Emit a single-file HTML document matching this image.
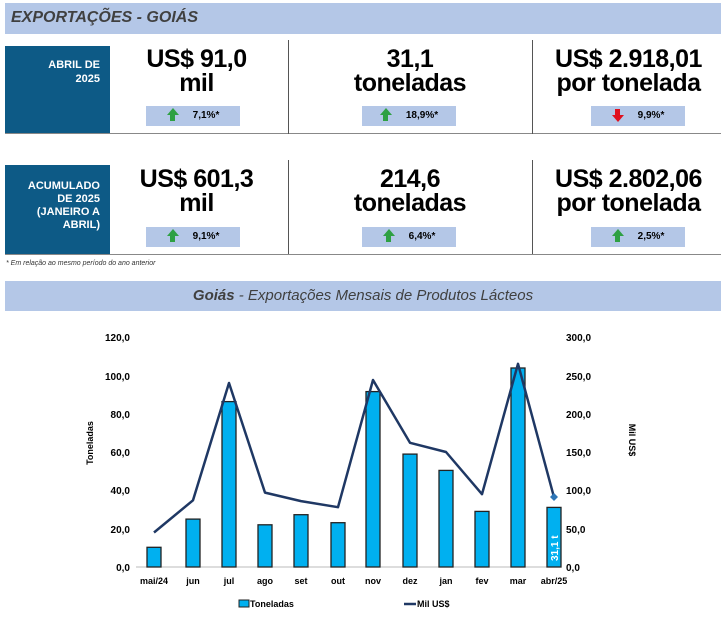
<!DOCTYPE html><html><head><meta charset="utf-8"><style>
body{margin:0;width:725px;height:628px;background:#fff;font-family:"Liberation Sans",sans-serif;position:relative;overflow:hidden}
.a{position:absolute}
.big{font-weight:bold;font-size:25px;line-height:24px;text-align:center;color:#000;letter-spacing:-0.5px}
.pill{position:absolute;background:#b4c7e7;height:20px;font-size:10px;font-weight:bold;line-height:20px;text-align:center}
.lab{background:#0d5a86;color:#fff;font-weight:bold;font-size:11px;text-align:right;padding-right:10px;box-sizing:border-box}
.sep{position:absolute;width:1px;background:#555}
.up{display:inline-block;width:0;height:0;border-left:6px solid transparent;border-right:6px solid transparent;border-bottom:7px solid #2ea043;vertical-align:middle;margin-right:14px;position:relative;top:-4px}
.up:after{content:"";position:absolute;left:-2.5px;top:7px;width:5px;height:6px;background:#2ea043}
.dn{display:inline-block;width:0;height:0;border-left:6px solid transparent;border-right:6px solid transparent;border-top:7px solid #e0101e;vertical-align:middle;margin-right:14px;position:relative;top:3px}
.dn:before{content:"";position:absolute;left:-2.5px;top:-13px;width:5px;height:6px;background:#e0101e}
</style></head><body>
<div class="a" style="left:5px;top:3px;width:716px;height:31px;background:#b4c7e7"></div>
<div class="a" style="left:11px;top:9px;font-size:16px;font-weight:bold;font-style:italic;color:#404040">EXPORTAÇÕES - GOIÁS</div>

<div class="a lab" style="left:5px;top:46px;width:105px;height:88px;padding-top:12px;line-height:14px">ABRIL DE<br>2025</div>
<div class="a" style="left:5px;top:133px;width:716px;height:1px;background:#888"></div>
<div class="sep" style="left:288px;top:40px;height:94px"></div>
<div class="sep" style="left:532px;top:40px;height:94px"></div>
<div class="a big" style="left:105px;top:47px;width:183px">US$ 91,0<br>mil</div>
<div class="a big" style="left:288px;top:47px;width:244px">31,1<br>toneladas</div>
<div class="a big" style="left:532px;top:47px;width:193px">US$ 2.918,01<br>por tonelada</div>
<div class="pill" style="left:146px;top:106px;width:94px"><span class="up"></span>7,1%*</div>
<div class="pill" style="left:362px;top:106px;width:94px"><span class="up"></span>18,9%*</div>
<div class="pill" style="left:591px;top:106px;width:94px"><span class="dn"></span>9,9%*</div>

<div class="a lab" style="left:5px;top:165px;width:105px;height:90px;padding-top:15px;line-height:13px">ACUMULADO<br>DE 2025<br>(JANEIRO A<br>ABRIL)</div>
<div class="a" style="left:5px;top:254px;width:716px;height:1px;background:#888"></div>
<div class="sep" style="left:288px;top:160px;height:94px"></div>
<div class="sep" style="left:532px;top:160px;height:94px"></div>
<div class="a big" style="left:105px;top:167px;width:183px">US$ 601,3<br>mil</div>
<div class="a big" style="left:288px;top:167px;width:244px">214,6<br>toneladas</div>
<div class="a big" style="left:532px;top:167px;width:193px">US$ 2.802,06<br>por tonelada</div>
<div class="pill" style="left:146px;top:227px;width:94px"><span class="up"></span>9,1%*</div>
<div class="pill" style="left:362px;top:227px;width:94px"><span class="up"></span>6,4%*</div>
<div class="pill" style="left:591px;top:227px;width:94px"><span class="up"></span>2,5%*</div>
<div class="a" style="left:6px;top:260px;font-size:7px;font-style:italic;color:#333">* Em relação ao mesmo período do ano anterior</div>

<div class="a" style="left:5px;top:281px;width:716px;height:30px;background:#b4c7e7"></div>
<div class="a" style="left:5px;top:287px;width:716px;text-align:center;font-size:15px;font-style:italic;color:#404040"><b>Goiás</b> - Exportações Mensais de Produtos Lácteos</div>

<svg class="a" style="left:0;top:0" width="725" height="628" font-family="Liberation Sans" font-size="10" font-weight="bold">
<g text-anchor="end" fill="#000">
<text x="130" y="341">120,0</text><text x="130" y="380">100,0</text><text x="130" y="418">80,0</text><text x="130" y="456">60,0</text><text x="130" y="494">40,0</text><text x="130" y="533">20,0</text><text x="130" y="571">0,0</text>
</g>
<g fill="#000">
<text x="566" y="341">300,0</text><text x="566" y="380">250,0</text><text x="566" y="418">200,0</text><text x="566" y="456">150,0</text><text x="566" y="494">100,0</text><text x="566" y="533">50,0</text><text x="566" y="571">0,0</text>
</g>
<text transform="translate(93,443) rotate(-90)" text-anchor="middle" font-size="9">Toneladas</text>
<text transform="translate(629,440) rotate(90)" text-anchor="middle" font-size="9">Mil US$</text>
<line x1="136" y1="567" x2="556" y2="567" stroke="#bbb"/>
<g fill="#00b0f0" stroke="#222" stroke-width="1.3">
<rect x="147" y="547.3" width="14" height="19.7"/>
<rect x="186" y="519.1" width="14" height="47.9"/>
<rect x="222" y="401.6" width="14" height="165.4"/>
<rect x="258" y="524.8" width="14" height="42.2"/>
<rect x="294" y="514.7" width="14" height="52.3"/>
<rect x="331" y="522.7" width="14" height="44.3"/>
<rect x="366" y="391.6" width="14" height="175.4"/>
<rect x="403" y="454.1" width="14" height="112.9"/>
<rect x="439" y="470.4" width="14" height="96.6"/>
<rect x="475" y="511.4" width="14" height="55.6"/>
<rect x="511" y="368" width="14" height="199"/>
<rect x="547" y="507.4" width="14" height="59.6"/>
</g>
<polyline fill="none" stroke="#1f3864" stroke-width="2.5" stroke-linejoin="round" points="154,532.5 193,500.3 229,383 265,492.6 301,501.1 338,507.2 373,380 410,442.8 446,452 482,494.2 518,363.8 554,497.2"/>
<path d="M554,493 l4,4 -4,4 -4,-4z" fill="#2e75b6"/>
<text transform="translate(558,561) rotate(-90)" fill="#fff" font-size="10">31,1 t</text>
<g text-anchor="middle" font-size="9">
<text x="154" y="584">mai/24</text><text x="193" y="584">jun</text><text x="229" y="584">jul</text><text x="265" y="584">ago</text><text x="301" y="584">set</text><text x="338" y="584">out</text><text x="373" y="584">nov</text><text x="410" y="584">dez</text><text x="446" y="584">jan</text><text x="482" y="584">fev</text><text x="518" y="584">mar</text><text x="554" y="584">abr/25</text>
</g>
<rect x="239" y="600" width="10" height="7" fill="#00b0f0" stroke="#222"/>
<text x="250" y="607" font-size="9">Toneladas</text>
<line x1="404" y1="604" x2="416" y2="604" stroke="#1f3864" stroke-width="2.5"/>
<text x="417" y="607" font-size="9">Mil US$</text>
</svg>
</body></html>
